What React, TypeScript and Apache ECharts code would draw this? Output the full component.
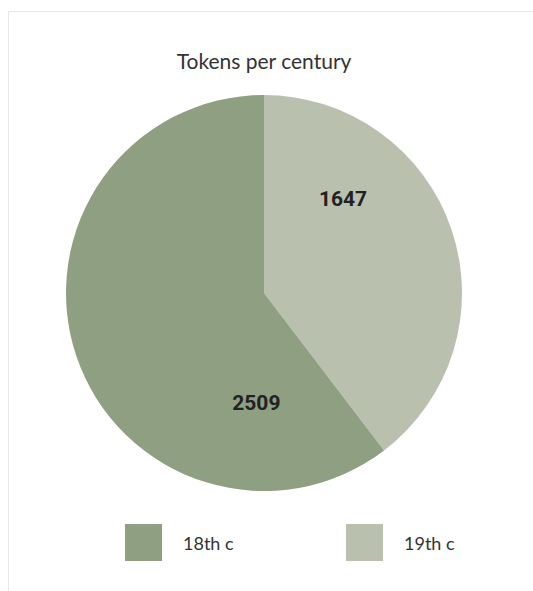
import React, { useEffect, useRef } from "react";
import * as echarts from "echarts";

const TITLE = "Tokens per century";
const categories = ["19th c", "18th c"];
const values = [1647, 2509];
const legendOrder = ["18th c", "19th c"];
const colors: Record<string, string> = { "18th c": "#8f9f82", "19th c": "#b9c1ae" };
// label placement (polar: degrees clockwise from top, distance from centre)
const labelPolar: Record<string, [number, number]> = { "19th c": [40, 123], "18th c": [184, 110] };

const CX = 255;
const CY = 281;
const R = 198;

const legendLefts = [111, 332];

export default function App() {
  const ref = useRef<HTMLDivElement>(null);
  useEffect(() => {
    if (!ref.current) return;
    const chart = echarts.init(ref.current, undefined, { renderer: "svg" });
    chart.setOption({
      animation: false,
      backgroundColor: "#ffffff",
      title: {
        text: TITLE,
        left: 250,
        top: 33,
        textAlign: "center",
        textStyle: { fontFamily: "Lato", fontWeight: "normal", fontSize: 21, color: "#333333" },
      },
      legend: legendOrder.map((name, i) => ({
        data: [name],
        left: legendLefts[i],
        top: 507,
        orient: "horizontal",
        itemWidth: 37,
        itemHeight: 37,
        icon: "rect",
        textStyle: {
          fontFamily: "Lato",
          fontSize: 18,
          color: "#333333",
          padding: [0, 0, 0, 16],
        },
      })),
      series: [
        {
          type: "pie",
          center: [CX, CY],
          radius: [0, R],
          startAngle: 90,
          clockwise: true,
          data: categories.map((c, i) => ({
            name: c,
            value: values[i],
            itemStyle: { color: colors[c] },
          })),
          label: {
            show: true,
            position: "inside",
            formatter: "{c}",
            fontFamily: "Roboto",
            fontWeight: "bold",
            fontSize: 21,
            color: "#222222",
          },
          labelLine: { show: false },
          labelLayout: (params: any) => {
            const name = categories[params.dataIndex];
            const [deg, dist] = labelPolar[name];
            const a = (deg * Math.PI) / 180;
            return {
              x: CX + Math.sin(a) * dist,
              y: CY - Math.cos(a) * dist,
              align: "center",
              verticalAlign: "middle",
            };
          },
          emphasis: { disabled: true },
        },
      ],
    });
    return () => chart.dispose();
  }, []);
  return (
    <div
      style={{
        position: "fixed",
        left: 8,
        top: 11,
        width: 525,
        height: 580,
        borderTop: "1px solid #e9e9e3",
        borderLeft: "1px solid #e9e9e3",
        boxSizing: "border-box",
        background: "#fff",
      }}
    >
      <div ref={ref} style={{ width: 524, height: 579 }} />
    </div>
  );
}
